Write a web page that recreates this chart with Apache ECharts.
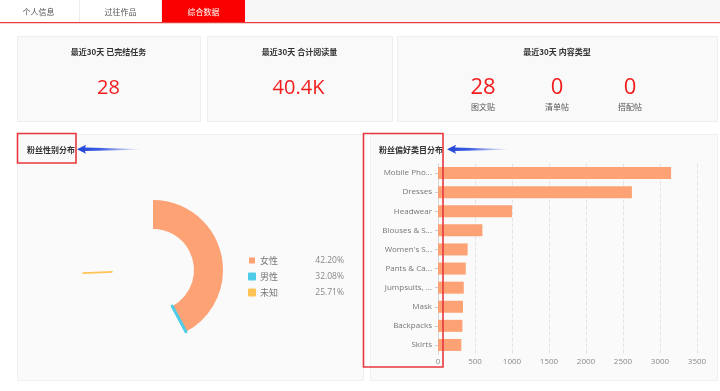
<!DOCTYPE html>
<html><head><meta charset="utf-8">
<script src="https://cdn.jsdelivr.net/npm/echarts@6/dist/echarts.min.js"></script>
<style>html,body{margin:0;padding:0;background:#fff;}#chart{width:720px;height:391px;}</style>
</head><body>
<div id="chart"></div>
<script>
// ---- data ----
const tabLabels = ['个人信息', '过往作品', '综合数据'];
const cardTitles = ['最近30天 已完结任务', '最近30天 合计阅读量', '最近30天 内容类型'];
const cardValues = ['28', '40.4K'];
const contentTypeLabels = ['图文贴', '清单帖', '搭配帖'];
const contentTypeValues = [28, 0, 0];
const genderTitle = '粉丝性别分布';
const genderNames = ['女性', '男性', '未知'];
const genderValues = [42.20, 32.08, 25.71];
const categoryTitle = '粉丝偏好类目分布';
const categoryNames = ['Mobile Phone Accessories', 'Dresses', 'Headwear', 'Blouses & Shirts', "Women's Sets",
  'Pants & Capris', 'Jumpsuits, Playsuits & Bodysuits', 'Mask', 'Backpacks', 'Skirts'];
const categoryValues = [3150, 2620, 1000, 600, 400, 375, 348, 338, 330, 315];
const xTickMax = 3500, xTickStep = 500;

// ---- styling ----
const CJK = '"Noto Sans CJK SC", "Noto Sans", sans-serif';
const LAT = '"Open Sans", "Noto Sans", sans-serif';
const RED = '#f21c1c';
const genderColors = ['#fda274', '#4fcbe8', '#fdc455'];
const barColor = '#fda274';

function txt(text, x, y, o) {
  o = o || {};
  return { type: 'text', z: o.z || 5, silent: true, style: {
    text: text, x: x, y: y, fill: o.fill || '#333',
    fontSize: o.size || 8, fontFamily: o.family || CJK, fontWeight: o.weight || 'normal',
    align: o.align || 'center', verticalAlign: 'middle', textAlign: o.align || 'center', textVerticalAlign: 'middle'
  }};
}
function box(x, y, w, h, fill, stroke, z) {
  return { type: 'rect', z: z == null ? -10 : z, silent: true, shape: { x: x, y: y, width: w, height: h },
    style: { fill: fill, stroke: stroke || null, lineWidth: stroke ? 1 : 0 } };
}
function arrow(tipX, y, endX) {
  const grad = new echarts.graphic.LinearGradient(0, 0, 1, 0, [
    { offset: 0, color: '#2244d6' }, { offset: 0.35, color: '#3a5ce0' }, { offset: 1, color: 'rgba(70,100,225,0)' }]);
  return { type: 'polygon', z: 100, silent: true,
    shape: { points: [[tipX, y], [tipX + 9, y - 4.5], [tipX + 8, y - 1.6], [endX, y - 0.3], [endX, y + 0.5], [tipX + 8, y + 1.8], [tipX + 9, y + 4.5]] },
    style: { fill: grad } };
}
function redBox(x, y, w, h) {
  return { type: 'rect', z: 100, silent: true, shape: { x: x, y: y, width: w, height: h },
    style: { fill: null, stroke: '#e8383d', lineWidth: 1.6 } };
}

const graphics = [
  box(0, 0, 720, 22, '#f7f7f7'),
  box(0, 0, 79, 22, '#ffffff'),
  box(80, 0, 81, 22, '#ffffff'),
  box(79, 0, 1, 22, '#ececec'),
  box(161, 0, 1, 22, '#ececec'),
  box(162, 0, 83, 22.5, '#fa0000'),
  box(0, 22, 720, 1.3, '#e63c3c'),
  txt(tabLabels[0], 38.5, 11.5, { fill: '#555' }),
  txt(tabLabels[1], 120.5, 11.5, { fill: '#555' }),
  txt(tabLabels[2], 203.5, 11.5, { fill: '#ffffff' }),
  box(17.5, 36.5, 183, 85, '#f9f9f9', '#eeeeee'),
  box(207.5, 36.5, 185, 85, '#f9f9f9', '#eeeeee'),
  box(397.5, 36.5, 320, 85, '#f9f9f9', '#eeeeee'),
  txt(cardTitles[0], 108.5, 52, { weight: 'bold' }),
  txt(cardTitles[1], 299.5, 52, { weight: 'bold' }),
  txt(cardTitles[2], 557, 52, { weight: 'bold' }),
  txt(cardValues[0], 108.5, 88, { fill: RED, size: 20, family: LAT }),
  txt(cardValues[1], 298.5, 88, { fill: RED, size: 20, family: LAT }),
  box(17.5, 134.5, 346, 246, '#fafafa', '#f0f0f0'),
  box(370.5, 134.5, 347, 246, '#fafafa', '#f0f0f0'),
  txt(genderTitle, 27, 149.5, { weight: 'bold', align: 'left', z: 50 }),
  txt(categoryTitle, 379, 149.5, { weight: 'bold', align: 'left', z: 50 }),
  redBox(17.5, 133.5, 58.5, 29.5),
  redBox(363.5, 133.5, 79.5, 233.5),
  arrow(77, 149.2, 140),
  arrow(447, 149.2, 508)
];
const ctX = [483, 557, 630];
contentTypeValues.forEach(function (v, i) {
  graphics.push(txt(String(v), ctX[i], 88, { fill: RED, size: 22, family: LAT }));
  graphics.push(txt(contentTypeLabels[i], ctX[i], 107, { fill: '#555' }));
});

const chart = echarts.init(document.getElementById('chart'), null, { renderer: 'canvas' });
chart.setOption({
  backgroundColor: 'transparent',
  textStyle: { fontFamily: LAT },
  graphic: { elements: graphics },
  legend: {
    orient: 'vertical', left: 243, top: 251, itemWidth: 6, itemHeight: 6, itemGap: 7, icon: 'rect',
    selectedMode: false, data: genderNames,
    formatter: function (name) {
      const i = genderNames.indexOf(name);
      return '{n|' + name + '}{v|' + genderValues[i].toFixed(2) + '%}';
    },
    textStyle: { rich: {
      n: { width: 40, fontSize: 9, lineHeight: 10, color: '#777', fontFamily: CJK },
      v: { width: 44, align: 'right', fontSize: 8.5, lineHeight: 10, color: '#888', fontFamily: LAT }
    } }
  },
  grid: { left: 438, right: 23, top: 163.5, bottom: 36.5, containLabel: false },
  xAxis: { type: 'value', min: 0, max: xTickMax, interval: xTickStep,
    axisLine: { show: false }, axisTick: { show: false },
    splitLine: { show: true, lineStyle: { type: 'dashed', color: '#e4e4e4' } },
    axisLabel: { fontSize: 8, color: '#888', margin: 3, fontFamily: LAT,
      formatter: function (v) { return String(v); } } },
  yAxis: { type: 'category', data: categoryNames, inverse: true,
    axisLine: { show: true, lineStyle: { color: '#d6d6d6' } },
    axisTick: { show: true, length: 3, alignWithLabel: true, lineStyle: { color: '#cccccc' } },
    axisLabel: { fontSize: 8, color: '#777', margin: 6, width: 52, overflow: 'truncate', fontFamily: LAT } },
  series: [
    { id: 'gender', type: 'pie', center: [153, 270], radius: [41, 70], startAngle: 90, clockwise: true,
      silent: true, showEmptyCircle: false, label: { show: false }, labelLine: { show: false },
      animationDurationUpdate: function (idx) { return idx === 0 ? 0 : 1000; },
      animationDelayUpdate: function (idx) { return idx === 0 ? 0 : 1e9; },
      data: [] },
    { id: 'category', type: 'bar', data: categoryValues, barWidth: 12, silent: true, animation: false,
      itemStyle: { color: barColor } }
  ]
});
const borderW = [0, 3, 1.6];
chart.setOption({
  series: [{ id: 'gender', data: genderNames.map(function (n, i) {
    return { name: n, value: genderValues[i],
      itemStyle: { color: genderColors[i], borderColor: genderColors[i], borderWidth: borderW[i] } };
  }) }]
});
</script>
</body></html>
